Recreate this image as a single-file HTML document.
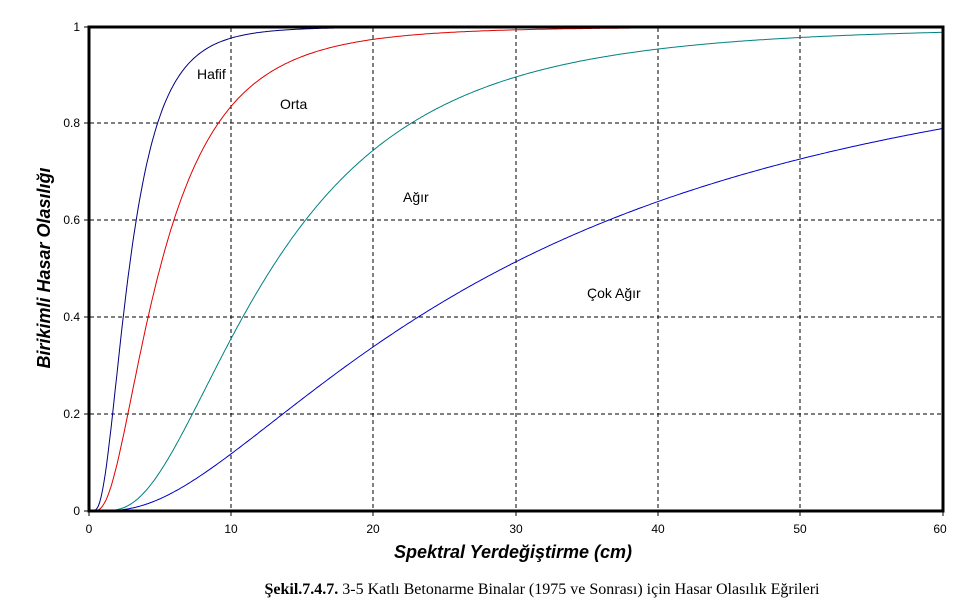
<!DOCTYPE html>
<html><head><meta charset="utf-8"><style>
body{margin:0;background:#fff;}
svg{display:block;}
</style></head><body>
<svg id="s" width="979" height="600" xmlns="http://www.w3.org/2000/svg" font-family="Liberation Sans, Arial, sans-serif">
<rect width="979" height="600" fill="#fff"/>
<g stroke="#000" stroke-width="1" stroke-dasharray="4,3">
<line x1="231" y1="28" x2="231" y2="510"/><line x1="373" y1="28" x2="373" y2="510"/>
<line x1="516" y1="28" x2="516" y2="510"/><line x1="658" y1="28" x2="658" y2="510"/>
<line x1="800" y1="28" x2="800" y2="510"/>
<line x1="90" y1="414" x2="942" y2="414"/><line x1="90" y1="317" x2="942" y2="317"/>
<line x1="90" y1="220" x2="942" y2="220"/><line x1="90" y1="123" x2="942" y2="123"/>
</g>
<g id="curves" fill="none" stroke-width="1"></g>
<rect x="89" y="27" width="854" height="484" fill="none" stroke="#000" stroke-width="3"/>
<g stroke="#000" stroke-width="1">
<line x1="84" y1="27" x2="89" y2="27"/><line x1="84" y1="123" x2="89" y2="123"/><line x1="84" y1="220" x2="89" y2="220"/>
<line x1="84" y1="317" x2="89" y2="317"/><line x1="84" y1="414" x2="89" y2="414"/><line x1="84" y1="511" x2="89" y2="511"/>
<line x1="89" y1="511" x2="89" y2="516"/><line x1="231" y1="511" x2="231" y2="516"/><line x1="373" y1="511" x2="373" y2="516"/>
<line x1="516" y1="511" x2="516" y2="516"/><line x1="658" y1="511" x2="658" y2="516"/><line x1="800" y1="511" x2="800" y2="516"/><line x1="943" y1="511" x2="943" y2="516"/>
</g>
<g font-size="12" text-anchor="end">
<text x="80" y="31">1</text><text x="80" y="127">0.8</text><text x="80" y="224">0.6</text>
<text x="80" y="321">0.4</text><text x="80" y="418">0.2</text><text x="80" y="515">0</text>
</g>
<g font-size="12" text-anchor="middle">
<text x="89" y="533">0</text><text x="231" y="533">10</text><text x="373" y="533">20</text><text x="516" y="533">30</text>
<text x="658" y="533">40</text><text x="800" y="533">50</text><text x="940" y="533">60</text>
</g>
<g font-size="14">
<text x="197" y="79">Hafif</text><text x="280" y="109">Orta</text><text x="403" y="202">Ağır</text><text x="587" y="298">Çok Ağır</text>
</g>
<text x="513" y="558" font-size="18" font-weight="bold" font-style="italic" text-anchor="middle">Spektral Yerdeğiştirme (cm)</text>
<text transform="translate(50,268) rotate(-90)" font-size="18" font-weight="bold" font-style="italic" text-anchor="middle">Birikimli Hasar Olasılığı</text>
<text x="542" y="594" font-family="Liberation Serif, serif" font-size="16" text-anchor="middle"><tspan font-weight="bold">Şekil.7.4.7.</tspan> 3-5 Katlı Betonarme Binalar (1975 ve Sonrası) için Hasar Olasılık Eğrileri</text>
</svg>
<script>
function erf(x){var s=x<0?-1:1;x=Math.abs(x);var t=1/(1+0.3275911*x);var y=1-(((((1.061405429*t-1.453152027)*t)+1.421413741)*t-0.284496736)*t+0.254829592)*t*Math.exp(-x*x);return s*y;}
function Phi(z){return 0.5*(1+erf(z/Math.SQRT2));}
var cs=[[2.82,0.633,"#000080"],[4.97,0.713,"#e00000"],[12.8,0.674,"#008080"],[29,0.9,"#0000c8"]];
var g=document.getElementById("curves");
cs.forEach(function(c){var d="";for(var x=0.05;x<=60.001;x+=0.1){var p=Phi(Math.log(x/c[0])/c[1]);var px=89+x*854/60,py=511-p*484;d+=(d?"L":"M")+px.toFixed(1)+","+py.toFixed(1);}
var e=document.createElementNS("http://www.w3.org/2000/svg","path");e.setAttribute("d",d);e.setAttribute("stroke",c[2]);g.appendChild(e);});
</script>
</body></html>
